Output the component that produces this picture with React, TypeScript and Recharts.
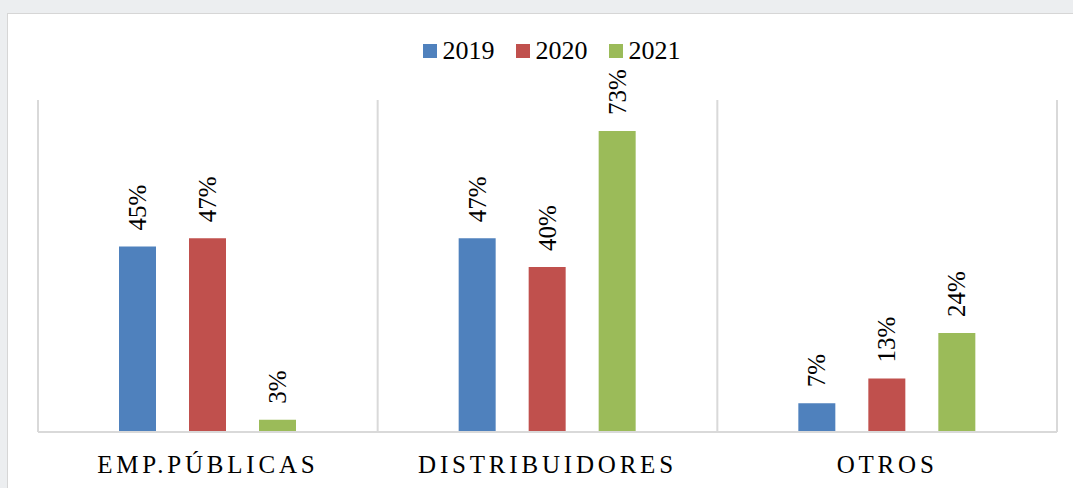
import { BarChart, Bar, XAxis, YAxis, CartesianGrid, Legend, LabelList } from 'recharts';

const categories = ['EMP.PÚBLICAS', 'DISTRIBUIDORES', 'OTROS'];
const values2019 = [45, 47, 7];
const values2020 = [47, 40, 13];
const values2021 = [3, 73, 24];
const seriesNames = ['2019', '2020', '2021'];
const seriesColors = ['#4F81BD', '#C0504D', '#9BBB59'];

const data = categories.map((name, i) => ({
  name,
  '2019': values2019[i],
  '2020': values2020[i],
  '2021': values2021[i],
}));

const serif = "'Liberation Serif', Tinos, 'DejaVu Serif', serif";

function RotatedLabel(props: any) {
  const { x, y, width, value } = props;
  const cx = x + width / 2;
  const ty = y - 16;
  return (
    <text
      x={cx}
      y={ty}
      transform={`rotate(-90, ${cx}, ${ty})`}
      textAnchor="start"
      dominantBaseline="central"
      style={{ fontFamily: serif, fontSize: 25 }}
      fill="#000"
    >
      {`${value}%`}
    </text>
  );
}

function LegendContent() {
  return (
    <div style={{ display: 'flex', justifyContent: 'center', alignItems: 'center', fontFamily: serif, fontSize: 26, color: '#000' }}>
      {seriesNames.map((s, i) => (
        <div key={s} style={{ display: 'flex', alignItems: 'center', marginRight: i < seriesNames.length - 1 ? 21 : 0 }}>
          <span style={{ display: 'inline-block', width: 14, height: 14, background: seriesColors[i], marginRight: 6 }} />
          <span>{s}</span>
        </div>
      ))}
    </div>
  );
}

export default function App() {
  return (
    <div style={{ position: 'absolute', left: 0, top: 0, width: 1073, height: 488, overflow: 'hidden', background: '#eceef0', fontFamily: serif }}>
      <div style={{ position: 'absolute', left: 7, top: 13, width: 1100, height: 500, background: '#fff', border: '1px solid #d6d6d6' }} />
      <div style={{ position: 'absolute', left: 0, top: 0 }}>
        <BarChart
          width={1073}
          height={488}
          data={data}
          margin={{ top: 100, right: 16, bottom: 6, left: 38 }}
          barSize={37}
          barGap={33}
          style={{ fontFamily: serif }}
        >
          <CartesianGrid
            horizontal={false}
            stroke="#d9d9d9"
            strokeWidth={2}
            verticalCoordinatesGenerator={({ offset }: any) =>
              [0, 1, 2, 3].map((i) => offset.left + (i * offset.width) / categories.length)
            }
          />
          <XAxis
            dataKey="name"
            height={50}
            tickLine={false}
            tickSize={0}
            tickMargin={23}
            axisLine={{ stroke: '#d9d9d9', strokeWidth: 2 }}
            tick={{ fontFamily: serif, fontSize: 25, fill: '#000', letterSpacing: 3.8, style: { fontFamily: serif } }}
            interval={0}
          />
          <YAxis hide domain={[0, 80.5]} />
          <Legend
            verticalAlign="middle"
            align="center"
            content={<LegendContent />}
            wrapperStyle={{ top: 36, left: 15, width: 1073 }}
          />
          {seriesNames.map((s, i) => (
            <Bar key={s} dataKey={s} fill={seriesColors[i]} isAnimationActive={false}>
              <LabelList dataKey={s} content={<RotatedLabel />} />
            </Bar>
          ))}
        </BarChart>
      </div>
    </div>
  );
}
